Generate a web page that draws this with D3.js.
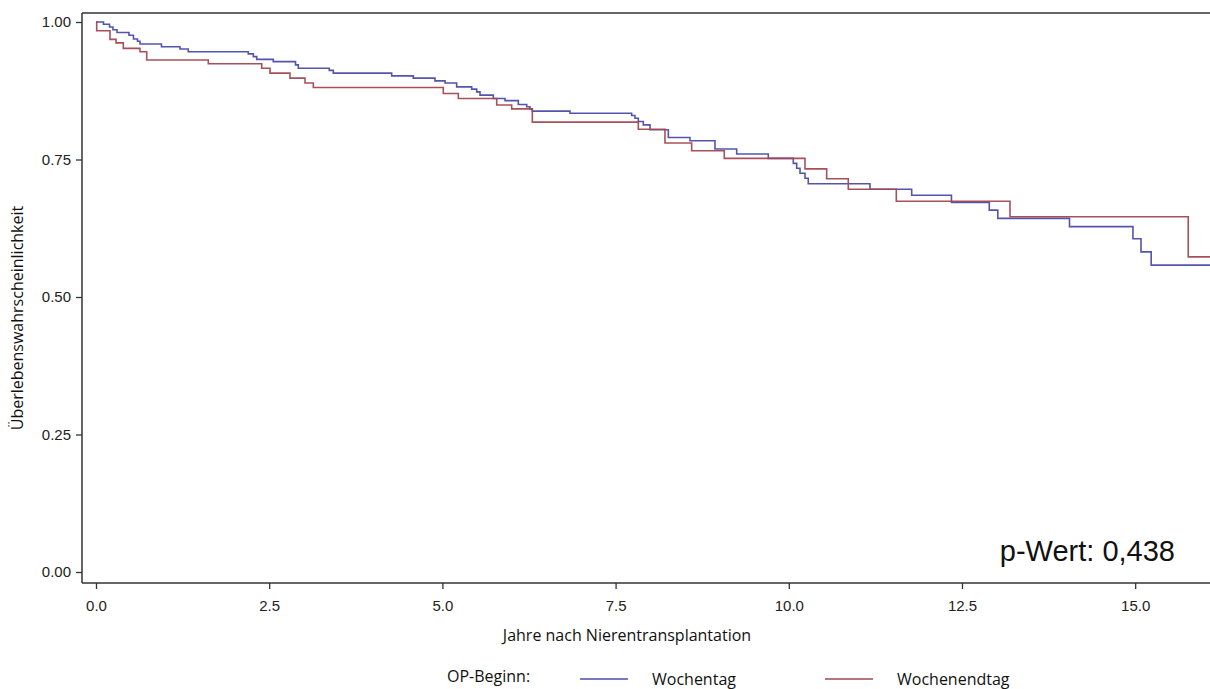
<!DOCTYPE html>
<html>
<head>
<meta charset="utf-8">
<script src="https://cdn.jsdelivr.net/npm/d3@7"></script>
<style>
  html, body { margin: 0; padding: 0; background: #fff; }
  svg { display: block; }
</style>
</head>
<body>
<svg id="chart" width="1210" height="689"></svg>
<script>
// ---------- data ----------
const xTicks = [0, 2.5, 5, 7.5, 10, 12.5, 15];
const yTicks = [0, 0.25, 0.5, 0.75, 1];
const groupNames = ["Wochentag", "Wochenendtag"];
const legendTitle = "OP-Beginn:";
const xTitle = "Jahre nach Nierentransplantation";
const yTitle = "Überlebenswahrscheinlichkeit";
const pValueText = "p-Wert: 0,438";
const maxFollowUp = 16.1;

const wochentagTime = [0, 0.108, 0.195, 0.245, 0.303, 0.476, 0.541, 0.599, 0.635, 0.945, 1.212, 1.332, 2.198, 2.271, 2.320, 2.559, 2.880, 2.920, 3.367, 3.425, 4.268, 4.580, 4.893, 5.038, 5.206, 5.423, 5.495, 5.543, 5.735, 5.904, 6.096, 6.217, 6.264, 6.298, 6.842, 7.732, 7.780, 7.828, 7.900, 7.997, 8.261, 8.574, 8.935, 9.248, 9.704, 10.065, 10.114, 10.162, 10.234, 10.281, 11.172, 11.774, 12.348, 12.894, 13.017, 14.052, 14.968, 15.084, 15.231];
const wochentagSurv = [1.0, 0.996, 0.991, 0.986, 0.981, 0.976, 0.969, 0.965, 0.960, 0.955, 0.951, 0.946, 0.942, 0.937, 0.932, 0.928, 0.922, 0.916, 0.912, 0.907, 0.902, 0.898, 0.893, 0.889, 0.882, 0.878, 0.873, 0.867, 0.861, 0.857, 0.850, 0.846, 0.842, 0.838, 0.834, 0.830, 0.825, 0.819, 0.813, 0.804, 0.790, 0.784, 0.769, 0.760, 0.752, 0.743, 0.734, 0.725, 0.716, 0.706, 0.696, 0.685, 0.672, 0.658, 0.643, 0.628, 0.606, 0.582, 0.558];

const wochenendTime = [0, 0.01, 0.202, 0.289, 0.394, 0.635, 0.732, 1.621, 2.392, 2.512, 2.800, 3.017, 3.137, 5.013, 5.230, 5.784, 6.000, 6.298, 7.828, 8.213, 8.598, 9.069, 10.234, 10.547, 10.859, 11.552, 13.193, 15.766];
const wochenendSurv = [1.0, 0.984, 0.9685, 0.962, 0.952, 0.946, 0.931, 0.924, 0.916, 0.907, 0.898, 0.889, 0.881, 0.870, 0.861, 0.849, 0.842, 0.818, 0.805, 0.780, 0.766, 0.752, 0.733, 0.715, 0.696, 0.674, 0.646, 0.573];

// ---------- layout ----------
const frame = { left: 82, top: 13, bottom: 583, right: 1212 };
const colors = ["#4b4ba8", "#a24750"];
const axisColor = "#333";

const svg = d3.select("#chart");

const x = d3.scaleLinear().domain([0, 16.08]).range([96, 1210]);
const y = d3.scaleLinear().domain([0, 1]).range([572, 22]);

// clip
svg.append("defs").append("clipPath").attr("id", "plotclip")
  .append("rect").attr("x", frame.left).attr("y", frame.top)
  .attr("width", frame.right - frame.left).attr("height", frame.bottom - frame.top);

// curves
function toPoints(times, surv) {
  const pts = times.map((t, i) => [t, surv[i]]);
  pts.push([maxFollowUp, surv[surv.length - 1]]);
  return pts;
}
const line = d3.line().x(d => x(d[0])).y(d => y(d[1])).curve(d3.curveStepAfter);
const series = [toPoints(wochentagTime, wochentagSurv), toPoints(wochenendTime, wochenendSurv)];

const g = svg.append("g").attr("clip-path", "url(#plotclip)");
series.forEach((pts, i) => {
  g.append("path").datum(pts).attr("d", line)
    .attr("fill", "none").attr("stroke", colors[i]).attr("stroke-width", 1.6)
    .attr("stroke-opacity", 0.95);
});

// frame
const fr = svg.append("g").attr("stroke", axisColor).attr("stroke-width", 1.5).attr("fill", "none");
fr.append("line").attr("x1", frame.left).attr("x2", frame.left).attr("y1", frame.top).attr("y2", frame.bottom);
fr.append("line").attr("x1", frame.left).attr("x2", frame.right).attr("y1", frame.top).attr("y2", frame.top);
fr.append("line").attr("x1", frame.left).attr("x2", frame.right).attr("y1", frame.bottom).attr("y2", frame.bottom);

// axes
const tickFont = "Liberation Sans, Arial, sans-serif";
const yAxis = d3.axisLeft(y).tickValues(yTicks).tickFormat(d3.format(".2f")).tickSize(6).tickPadding(5);
const ya = svg.append("g").attr("transform", `translate(${frame.left},0)`).call(yAxis);
ya.select(".domain").remove();
ya.selectAll(".tick line").attr("stroke", axisColor).attr("stroke-width", 1.3);
ya.selectAll(".tick text").attr("fill", "#222").style("font-family", tickFont).style("font-size", "15px");

const xAxis = d3.axisBottom(x).tickValues(xTicks).tickFormat(d3.format(".1f")).tickSize(6).tickPadding(11);
const xa = svg.append("g").attr("transform", `translate(0,${frame.bottom})`).call(xAxis);
xa.select(".domain").remove();
xa.selectAll(".tick line").attr("stroke", axisColor).attr("stroke-width", 1.3);
xa.selectAll(".tick text").attr("fill", "#222").style("font-family", tickFont).style("font-size", "15px");

// titles
const labelFont = "Open Sans, Noto Sans, sans-serif";
svg.append("text").attr("x", 627).attr("y", 641).attr("text-anchor", "middle")
  .style("font-family", labelFont).style("font-size", "16px").attr("fill", "#111").text(xTitle);
svg.append("text").attr("transform", "translate(23,318) rotate(-90)").attr("text-anchor", "middle")
  .style("font-family", labelFont).style("font-size", "16px").attr("fill", "#111").text(yTitle);

// p-value
svg.append("text").attr("x", 1175).attr("y", 561).attr("text-anchor", "end")
  .style("font-family", tickFont).style("font-size", "29px").attr("fill", "#111").text(pValueText);

// legend
const ly = 679;
svg.append("text").attr("x", 447).attr("y", ly + 3).style("font-family", labelFont)
  .style("font-size", "16px").attr("fill", "#111").text(legendTitle);
const legendX = [580, 825];
groupNames.forEach((name, i) => {
  svg.append("line").attr("x1", legendX[i]).attr("x2", legendX[i] + 48).attr("y1", ly).attr("y2", ly)
    .attr("stroke", colors[i]).attr("stroke-width", 1.3);
  svg.append("text").attr("x", legendX[i] + 72).attr("y", ly + 6).style("font-family", labelFont)
    .style("font-size", "16px").attr("fill", "#111").text(name);
});
</script>
</body>
</html>
